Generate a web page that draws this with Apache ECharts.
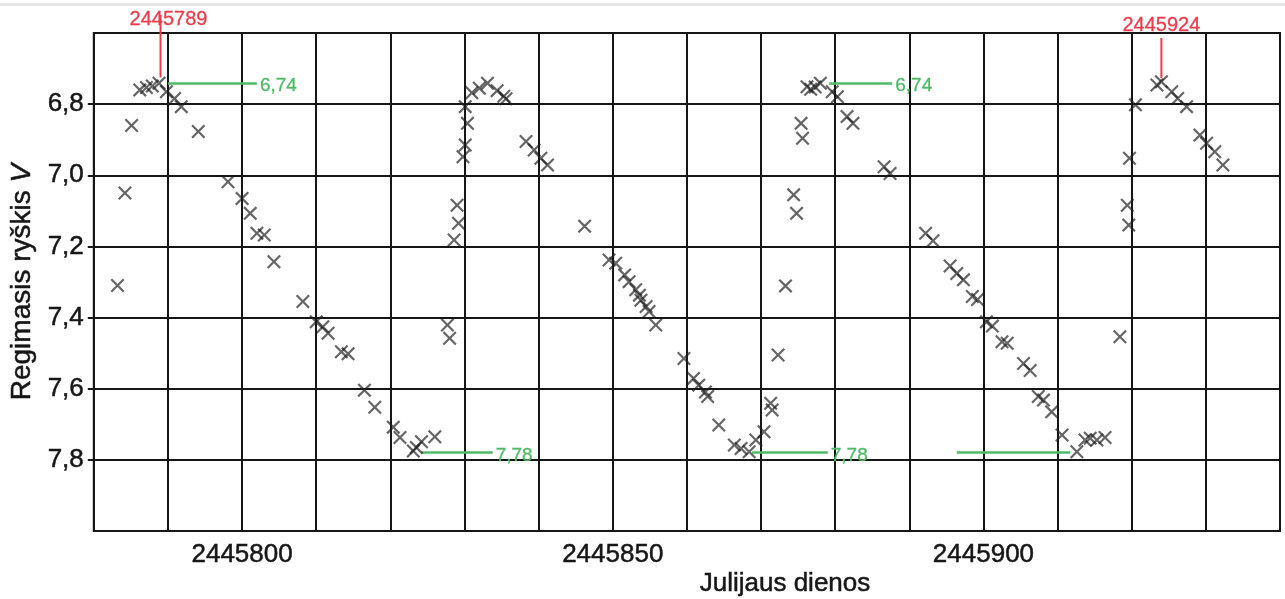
<!DOCTYPE html>
<html>
<head>
<meta charset="utf-8">
<script src="https://cdn.jsdelivr.net/npm/echarts@6/dist/echarts.min.js"></script>
<style>
html,body{margin:0;padding:0;background:#fff;}
#c{width:1285px;height:599px;}
</style>
</head>
<body>
<div id="c"></div>
<script>
// Observation days (Julian day) and visual magnitudes V
const days = [
  2445783.2, 2445784.2, 2445785.1, 2445786.2, 2445787.1, 2445787.9, 2445788.8, 2445789.8,
  2445790.9, 2445791.8, 2445794.1, 2445798.1, 2445800.0, 2445801.1, 2445802.0, 2445803.0,
  2445804.3, 2445808.2, 2445810.0, 2445810.9, 2445811.6, 2445813.4, 2445814.3, 2445816.5,
  2445817.9, 2445820.4, 2445821.3, 2445823.1, 2445823.5, 2445824.2, 2445826.0,
  2445827.7, 2445828.0, 2445828.6, 2445829.0, 2445829.2, 2445829.8, 2445830.1, 2445830.4,
  2445830.1, 2445831.0, 2445832.0, 2445833.1, 2445834.4, 2445835.3, 2445835.6, 2445838.3,
  2445839.4, 2445840.3, 2445841.2,
  2445846.2, 2445849.5, 2445850.4, 2445851.6, 2445852.2, 2445853.1, 2445853.6, 2445853.8,
  2445854.5, 2445854.9, 2445855.8, 2445859.6, 2445860.9, 2445861.6, 2445862.5, 2445862.8,
  2445864.3, 2445866.4, 2445867.3, 2445868.4, 2445869.3, 2445870.4, 2445871.3, 2445871.5,
  2445872.3, 2445873.3, 2445874.4, 2445874.8, 2445875.4, 2445875.6, 2445876.2, 2445876.7,
  2445877.3, 2445878.0, 2445879.6, 2445880.3, 2445881.6, 2445882.4, 2445886.6, 2445887.4,
  2445892.2, 2445893.2, 2445895.5, 2445896.4, 2445897.3, 2445898.5, 2445899.2, 2445900.4,
  2445901.2, 2445902.5, 2445903.2, 2445905.4, 2445906.3, 2445907.4, 2445908.1, 2445909.2,
  2445910.6, 2445912.6, 2445913.7, 2445914.4, 2445915.3, 2445916.4, 2445918.4, 2445919.4,
  2445919.6, 2445919.7, 2445920.5, 2445923.4, 2445924.0, 2445925.4, 2445926.2, 2445927.4,
  2445929.2, 2445930.1, 2445931.2, 2445932.3
];
const mags = [
  7.31, 7.05, 6.86, 6.76, 6.753, 6.749, 6.741, 6.765,
  6.784, 6.807, 6.877, 7.018, 7.065, 7.107, 7.163, 7.168,
  7.243, 7.355, 7.412, 7.426, 7.444, 7.496, 7.502, 7.604,
  7.652, 7.708, 7.737, 7.775, 7.765, 7.749, 7.735,
  7.421, 7.458, 7.182, 7.084, 7.135, 6.948, 6.915, 6.854,
  6.807, 6.768, 6.755, 6.741, 6.762, 6.778, 6.785, 6.905,
  6.929, 6.952, 6.971,
  7.143, 7.238, 7.247, 7.28, 7.299, 7.322, 7.337, 7.351,
  7.369, 7.383, 7.421, 7.515, 7.571, 7.59, 7.609, 7.622,
  7.702, 7.758, 7.768, 7.777, 7.744, 7.721, 7.641, 7.66,
  7.505, 7.311, 7.055, 7.107, 6.854, 6.896, 6.751, 6.758,
  6.752, 6.741, 6.765, 6.779, 6.835, 6.854, 6.976, 6.995,
  7.163, 7.184, 7.255, 7.276, 7.294, 7.341, 7.349, 7.412,
  7.424, 7.468, 7.472, 7.529, 7.549, 7.622, 7.632, 7.665,
  7.73, 7.777, 7.744, 7.739, 7.744, 7.737, 7.454, 7.084,
  7.14, 6.952, 6.802, 6.746, 6.737, 6.765, 6.784, 6.807,
  6.887, 6.91, 6.934, 6.971
];

// Y tick values and x labelled ticks
const yTicks = [6.8, 7.0, 7.2, 7.4, 7.6, 7.8];
const xLabelled = [2445800, 2445850, 2445900];

// Green level guides (from day, to day, magnitude, label)
const greenFrom  = [2445790.0, 2445879.2, 2445824.2, 2445868.8, 2445896.4];
const greenTo    = [2445802.0, 2445887.7, 2445833.8, 2445879.0, 2445911.7];
const greenMag   = [6.74, 6.74, 7.78, 7.78, 7.78];
const greenLabel = ['6,74', '6,74', '7,78', '7,78', ''];

// Red maximum markers (day, label, magnitude of the maximum)
const redDays   = [2445789, 2445924];
const redLabels = ['2445789', '2445924'];
const redMag    = [6.725, 6.727];

const FONT = "'Liberation Sans', Arial, sans-serif";
const GREEN = '#4fb968';
const RED = '#ee3b4b';
const INK = '#161616';

const crossPath = 'path://M0,11 L11,0 L50,39 L89,0 L100,11 L61,50 L100,89 L89,100 L50,61 L11,100 L0,89 L39,50 Z';

const points = days.map((d, i) => [d, mags[i]]);

const markLines = greenFrom.map((f, i) => ([
  { coord: [f, greenMag[i]], label: { formatter: greenLabel[i] } },
  { coord: [greenTo[i], greenMag[i]] }
]));

const chart = echarts.init(document.getElementById('c'), null, { renderer: 'canvas' });

const option = {
  animation: false,
  backgroundColor: '#ffffff',
  grid: {
    left: 92, right: 5, top: 33, bottom: 68,
    show: true, borderColor: INK, borderWidth: 2, containLabel: false
  },
  xAxis: {
    type: 'value',
    min: 2445780, max: 2445940, interval: 10,
    axisLine: { show: true, lineStyle: { color: INK, width: 2 } },
    axisTick: { show: false },
    splitLine: { show: true, lineStyle: { color: INK, width: 2 } },
    axisLabel: {
      interval: 0,
      margin: 11,
      color: INK,
      fontFamily: FONT,
      fontSize: 26,
      textBorderColor: INK,
      textBorderWidth: 0.5,
      formatter: v => xLabelled.indexOf(Math.round(v)) >= 0 ? String(Math.round(v)) : ''
    }
  },
  yAxis: {
    type: 'value',
    inverse: true,
    min: 6.6, max: 8.0, interval: 0.2,
    name: '{a|Regimasis ryškis }{b|V}',
    nameLocation: 'middle',
    nameGap: 55,
    nameRotate: 90,
    nameTextStyle: {
      rich: {
        a: { fontFamily: FONT, fontSize: 28, color: INK, textBorderColor: INK, textBorderWidth: 0.5 },
        b: { fontFamily: FONT, fontSize: 28, color: INK, fontStyle: 'italic', textBorderColor: INK, textBorderWidth: 0.5 }
      }
    },
    axisLine: { show: true, lineStyle: { color: INK, width: 2 } },
    axisTick: { show: true, length: 6, customValues: yTicks, lineStyle: { color: INK, width: 2 } },
    splitLine: { show: true, lineStyle: { color: INK, width: 2 } },
    axisLabel: {
      customValues: yTicks,
      margin: 10,
      color: INK,
      fontFamily: FONT,
      fontSize: 26,
      textBorderColor: INK,
      textBorderWidth: 0.5,
      formatter: v => Number(v).toFixed(1).replace('.', ',')
    }
  },
  series: [
    {
      type: 'scatter',
      data: points,
      symbol: crossPath,
      symbolSize: 14,
      itemStyle: { color: 'rgba(30,30,30,0.85)' },
      z: 5,
      markLine: {
        silent: true,
        symbol: 'none',
        animation: false,
        lineStyle: { color: GREEN, width: 2.5, type: 'solid' },
        label: {
          show: true,
          position: 'end',
          distance: 3,
          color: GREEN,
          fontFamily: FONT,
          fontSize: 19,
          textBorderColor: GREEN,
          textBorderWidth: 0.3,
          offset: [0, 3]
        },
        emphasis: { disabled: true },
        data: markLines
      }
    }
  ]
};

chart.setOption(option);

function buildGraphics() {
  const g = [];
  // faint page edge at the top
  g.push({ type: 'rect', shape: { x: 0, y: 3, width: 1285, height: 3 }, style: { fill: '#e6e6e6' }, silent: true });
  const labelOffsetX = [8, 0];
  const labelY = [19, 25];
  const lineTopY = [15, 38];
  redDays.forEach((d, i) => {
    const px = chart.convertToPixel({ gridIndex: 0 }, [d, redMag[i]]);
    g.push({
      type: 'line', silent: true, z: 10,
      shape: { x1: px[0], y1: lineTopY[i], x2: px[0], y2: px[1] },
      style: { stroke: RED, lineWidth: 2 }
    });
    g.push({
      type: 'text', silent: true, z: 11,
      x: px[0] + labelOffsetX[i], y: labelY[i],
      style: { text: redLabels[i], fill: RED, font: '20px ' + FONT, align: 'center', verticalAlign: 'middle', stroke: RED, lineWidth: 0.3 }
    });
  });
  g.push({
    type: 'text', silent: true,
    x: 785, y: 584,
    style: { text: 'Julijaus dienos', fill: INK, font: '26px ' + FONT, align: 'center', verticalAlign: 'middle', stroke: INK, lineWidth: 0.5 }
  });
  return g;
}

chart.setOption({ graphic: buildGraphics() });
</script>
</body>
</html>
